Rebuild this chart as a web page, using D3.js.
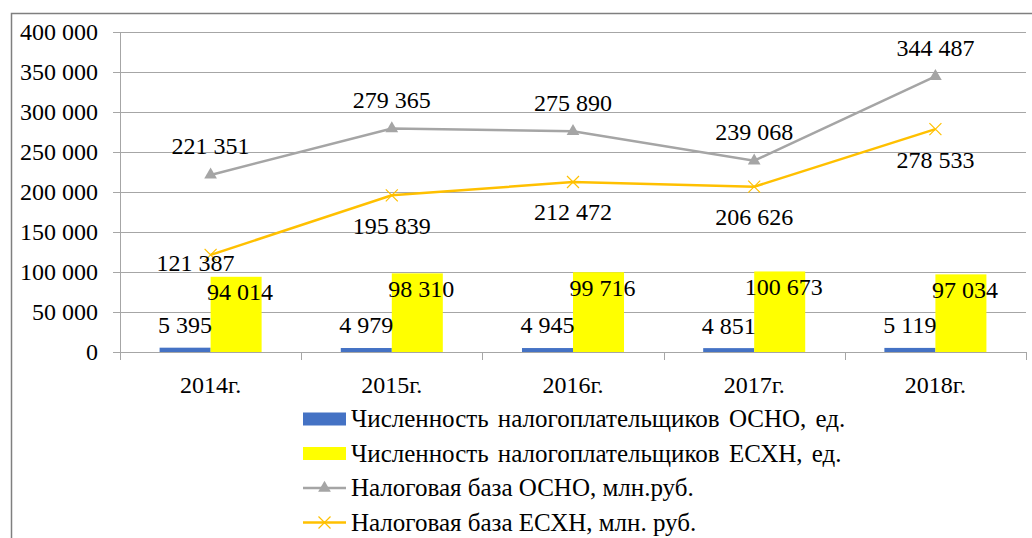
<!DOCTYPE html>
<html>
<head>
<meta charset="utf-8">
<script src="https://d3js.org/d3.v7.min.js"></script>
<style>
  html, body { margin: 0; padding: 0; background: #fff; }
  svg { display: block; }
</style>
</head>
<body>
<div id="container"></div>
<script>
// chart data
const years = ['2014г.', '2015г.', '2016г.', '2017г.', '2018г.'];
const countOsno = [5395, 4979, 4945, 4851, 5119];
const countEshn = [94014, 98310, 99716, 100673, 97034];
const baseOsno = [221351, 279365, 275890, 239068, 344487];
const baseEshn = [121387, 195839, 212472, 206626, 278533];
const yTicks = [0, 50000, 100000, 150000, 200000, 250000, 300000, 350000, 400000];

const legendNames = [
    'Численность налогоплательщиков ОСНО, ед.',
    'Численность налогоплательщиков ЕСХН, ед.',
    'Налоговая база ОСНО, млн.руб.',
    'Налоговая база ЕСХН, млн. руб.'
];

const colors = { osno: '#4472c4', eshn: '#ffff00', lineOsno: '#a5a5a5', lineEshn: '#ffc000' };

const width = 1032, height = 538;
const plot = { left: 120, right: 1026, top: 32, bottom: 352 };
const serif = 'Liberation Serif';

const fmt = v => d3.format(',')(v).replace(/,/g, '\u00a0');

const svg = d3.select('#container').append('svg')
    .attr('width', width)
    .attr('height', height);

// outer frame (left and top edge only are visible)
svg.append('path')
    .attr('d', `M11.5,${height} V13.5 H${width}`)
    .attr('fill', 'none')
    .attr('stroke', '#7f7f7f')
    .attr('stroke-width', 1.5);

const x = d3.scaleBand().domain(years).range([plot.left, plot.right]);
const x1 = d3.scaleBand().domain(['osno', 'eshn']).range([0, x.bandwidth()]).paddingOuter(0.776);
const y = d3.scaleLinear().domain([0, 400000]).range([plot.bottom, plot.top]);

// gridlines
svg.append('g')
    .selectAll('line')
    .data(yTicks.filter(t => t > 0))
    .enter().append('line')
    .attr('x1', plot.left - 7).attr('x2', plot.right)
    .attr('y1', d => Math.round(y(d)) + 0.5).attr('y2', d => Math.round(y(d)) + 0.5)
    .attr('stroke', '#a6a6a6').attr('stroke-width', 1);

// y axis line
svg.append('line')
    .attr('x1', plot.left + 0.5).attr('x2', plot.left + 0.5)
    .attr('y1', plot.top).attr('y2', plot.bottom + 8)
    .attr('stroke', '#a6a6a6');

// y labels
svg.append('g')
    .selectAll('text')
    .data(yTicks)
    .enter().append('text')
    .attr('x', plot.left - 22)
    .attr('y', d => y(d))
    .attr('dy', '0.35em')
    .attr('text-anchor', 'end')
    .style('font-family', serif)
    .style('font-size', '24px')
    .text(d => d === 0 ? '0' : fmt(d));

// bars
const groups = svg.append('g')
    .selectAll('g')
    .data(years.map((yr, i) => ({ yr, i })))
    .enter().append('g')
    .attr('transform', d => `translate(${x(d.yr)},0)`);

groups.append('rect')
    .attr('x', x1('osno'))
    .attr('width', x1.bandwidth())
    .attr('y', d => y(countOsno[d.i]))
    .attr('height', d => plot.bottom - y(countOsno[d.i]))
    .attr('fill', colors.osno);

groups.append('rect')
    .attr('x', x1('eshn'))
    .attr('width', x1.bandwidth())
    .attr('y', d => y(countEshn[d.i]))
    .attr('height', d => plot.bottom - y(countEshn[d.i]))
    .attr('fill', colors.eshn);

// x axis line + ticks
svg.append('line')
    .attr('x1', plot.left - 7).attr('x2', plot.right + 1)
    .attr('y1', plot.bottom + 0.5).attr('y2', plot.bottom + 0.5)
    .attr('stroke', '#a6a6a6');

svg.append('g')
    .selectAll('line')
    .data(d3.range(years.length + 1))
    .enter().append('line')
    .attr('x1', i => Math.round(plot.left + i * x.step()) + 0.5)
    .attr('x2', i => Math.round(plot.left + i * x.step()) + 0.5)
    .attr('y1', plot.bottom).attr('y2', plot.bottom + 8)
    .attr('stroke', '#a6a6a6');

svg.append('g')
    .selectAll('text')
    .data(years)
    .enter().append('text')
    .attr('x', d => x(d) + x.bandwidth() / 2)
    .attr('y', plot.bottom + 33)
    .attr('dy', '0.35em')
    .attr('text-anchor', 'middle')
    .style('font-family', serif)
    .style('font-size', '24px')
    .text(d => d);

// lines
const cx = i => x(years[i]) + x.bandwidth() / 2;
const line = d3.line().x((d, i) => cx(i)).y(d => y(d));

svg.append('path')
    .datum(baseOsno)
    .attr('d', line)
    .attr('fill', 'none')
    .attr('stroke', colors.lineOsno)
    .attr('stroke-width', 2.5);

svg.append('path')
    .datum(baseEshn)
    .attr('d', line)
    .attr('fill', 'none')
    .attr('stroke', colors.lineEshn)
    .attr('stroke-width', 2.5);

const tri = d3.symbol().type(d3.symbolTriangle).size(70);

svg.append('g')
    .selectAll('path')
    .data(baseOsno)
    .enter().append('path')
    .attr('d', tri)
    .attr('transform', (d, i) => `translate(${cx(i)},${y(d)})`)
    .attr('fill', colors.lineOsno);

function cross(g, px, py, r, color) {
    g.append('path')
        .attr('d', `M${px - r},${py - r}L${px + r},${py + r}M${px - r},${py + r}L${px + r},${py - r}`)
        .attr('stroke', color)
        .attr('stroke-width', 1.2)
        .attr('fill', 'none');
}

const crossG = svg.append('g');
baseEshn.forEach((d, i) => cross(crossG, cx(i), y(d), 6, colors.lineEshn));

// data labels
const labels = svg.append('g');

function label(px, py, v) {
    labels.append('text')
        .attr('x', px).attr('y', py)
        .attr('dy', '0.35em')
        .attr('text-anchor', 'middle')
        .style('font-family', serif)
        .style('font-size', '24px')
        .text(fmt(v));
}

countOsno.forEach((v, i) => {
    label(x(years[i]) + x1('osno') + x1.bandwidth() / 2, y(v) - 23, v);
});
countEshn.forEach((v, i) => {
    label(x(years[i]) + x1('eshn') + x1.bandwidth() / 2 + 4, y(v) + 15, v);
});
baseOsno.forEach((v, i) => {
    label(cx(i), y(v) - 29, v);
});
baseEshn.forEach((v, i) => {
    // first label sits just under its point, the rest lower
    if (i === 0) label(cx(i) - 15, y(v) + 8, v);
    else label(cx(i), y(v) + 30, v);
});

// legend
const legend = svg.append('g');
const lx = 303, lw = 43, ly0 = 419, lstep = 34.5;

legendNames.forEach((name, i) => {
    const ly = ly0 + i * lstep;
    if (i < 2) {
        legend.append('rect')
            .attr('x', lx).attr('y', ly - 6.5)
            .attr('width', lw).attr('height', 13)
            .attr('fill', i === 0 ? colors.osno : colors.eshn);
    } else {
        const c = i === 2 ? colors.lineOsno : colors.lineEshn;
        legend.append('line')
            .attr('x1', lx).attr('x2', lx + lw)
            .attr('y1', ly).attr('y2', ly)
            .attr('stroke', c).attr('stroke-width', 2.5);
        if (i === 2) {
            legend.append('path')
                .attr('d', tri)
                .attr('transform', `translate(${lx + lw / 2},${ly})`)
                .attr('fill', c);
        } else {
            cross(legend, lx + lw / 2, ly, 6, c);
        }
    }
    legend.append('text')
        .attr('x', lx + lw + 5)
        .attr('y', ly)
        .attr('dy', '0.33em')
        .style('font-family', serif)
        .style('font-size', '25px')
        .style('word-spacing', i < 2 ? '3px' : '0px')
        .text(name);
});
</script>
</body>
</html>
